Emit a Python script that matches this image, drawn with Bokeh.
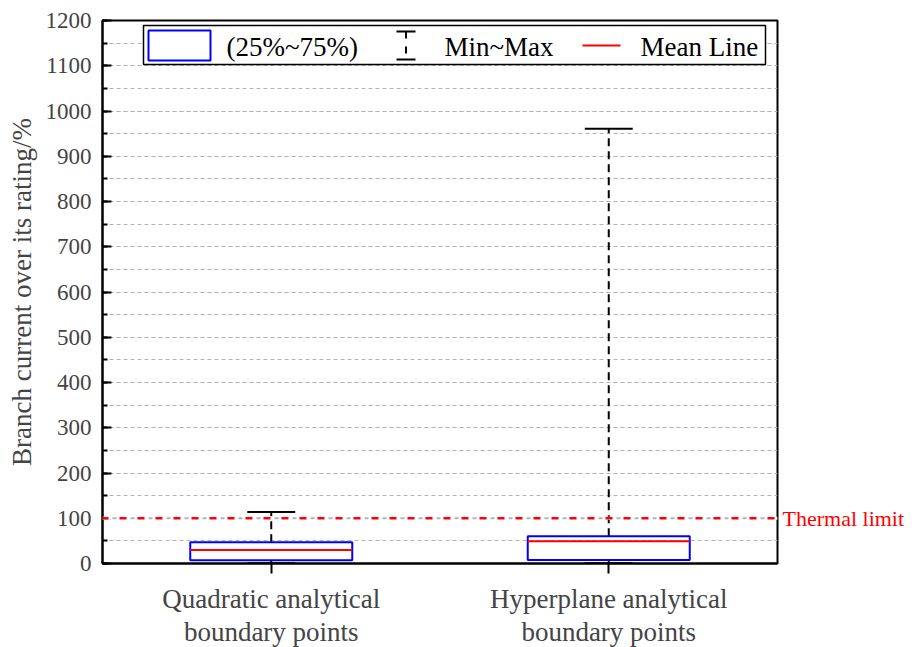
from bokeh.plotting import figure
from bokeh.models import (Range1d, SingleIntervalTicker, FixedTicker, Span, LinearAxis,
                          ColumnDataSource)
from bokeh.transform import dodge
from bokeh.embed import file_html
from bokeh.resources import INLINE
from bokeh.core.properties import value

# --- data ---------------------------------------------------------------
categories = ["Quadratic analytical\nboundary points",
              "Hyperplane analytical\nboundary points"]
q1 = [7, 8]            # 25th percentile
q3 = [47, 60]          # 75th percentile
means = [30, 49]       # mean line
mins = [0.5, 0.5]      # minimum
maxs = [114, 961]      # maximum
thermal_limit = 100

legend_labels = ["(25%~75%)", "Min~Max", "Mean Line"]

FONT = "'Liberation Serif', 'Times New Roman', serif"
FW, FH = 675, 543

# each category sits in the middle of a unit-wide slot
xpos = [i + 0.5 for i in range(len(categories))]

src = ColumnDataSource(dict(x=xpos, q1=q1, q3=q3, mean=means, lo=mins, hi=maxs))

p = figure(x_range=Range1d(0, len(categories)), y_range=Range1d(0, 1200),
           frame_width=FW, frame_height=FH,
           min_border_left=102, min_border_top=20,
           min_border_right=0, min_border_bottom=84,
           output_backend="svg", toolbar_location=None,
           background_fill_color="white", border_fill_color="white")

# pixel-space ranges for the in-plot legend
p.extra_x_ranges = {"px": Range1d(0, FW)}
p.extra_y_ranges = {"px": Range1d(FH, 0)}

p.outline_line_color = "black"
p.outline_line_width = 2

# y axis
yax = p.yaxis[0]
yax.ticker = SingleIntervalTicker(interval=100, num_minor_ticks=2)
yax.axis_label = "Branch current over its rating/%"
yax.axis_label_text_font = FONT
yax.axis_label_text_font_size = "27px"
yax.axis_label_text_font_style = "normal"
yax.axis_label_standoff = 6
yax.major_label_text_font = FONT
yax.major_label_text_font_size = "23px"
yax.major_label_standoff = 11
yax.major_tick_in = 9
yax.major_tick_out = 0
yax.minor_tick_in = 5
yax.minor_tick_out = 0
yax.major_tick_line_width = 2
yax.minor_tick_line_width = 2
yax.axis_line_width = 2

# right-hand axis carrying only the thermal limit caption
rax = LinearAxis(ticker=FixedTicker(ticks=[thermal_limit], minor_ticks=[]),
                 major_label_overrides={thermal_limit: "Thermal limit"},
                 major_label_text_color="red", major_label_text_font=FONT,
                 major_label_text_font_size="22px", major_label_standoff=5,
                 major_tick_in=0, major_tick_out=0, minor_tick_in=0, minor_tick_out=0,
                 axis_line_color=None, major_tick_line_color=None)
p.add_layout(rax, "right")

# x axis: one tick per category
xax = p.xaxis[0]
xax.ticker = FixedTicker(ticks=xpos, minor_ticks=[])
xax.major_label_overrides = {x: c for x, c in zip(xpos, categories)}
xax.major_label_text_font = FONT
xax.major_label_text_font_size = "27px"
xax.major_label_text_line_height = 1.1
xax.major_label_standoff = 10
xax.major_tick_in = 0
xax.major_tick_out = 10
xax.minor_tick_in = 0
xax.minor_tick_out = 0
xax.major_tick_line_width = 2
xax.axis_line_width = 2

# grid
p.xgrid.visible = False
p.ygrid.grid_line_color = "#b4b4b4"
p.ygrid.grid_line_dash = "4 3"
p.ygrid.grid_line_width = 1
p.ygrid.minor_grid_line_color = "#b4b4b4"
p.ygrid.minor_grid_line_dash = "4 3"
p.ygrid.minor_grid_line_width = 1

# thermal limit line: red dashes with a grey dot in each gap
p.add_layout(Span(location=thermal_limit, dimension="width", line_color="white",
                  line_width=3))
p.add_layout(Span(location=thermal_limit, dimension="width", line_color="#b4b4b4",
                  line_width=2, line_dash="4 14", line_dash_offset=8))
p.add_layout(Span(location=thermal_limit, dimension="width", line_color="red",
                  line_width=2.5, line_dash="7 11", line_dash_offset=1))

# whiskers (dashed stems)
p.segment(x0="x", x1="x", y0="q3", y1="hi", source=src,
          line_color="black", line_width=2, line_dash="8 5")
p.segment(x0="x", x1="x", y0="lo", y1="q1", source=src,
          line_color="black", line_width=2, line_dash="8 5")
# caps
cap = 0.071
p.segment(x0=dodge("x", -cap), x1=dodge("x", cap), y0="hi", y1="hi", source=src,
          line_color="black", line_width=2)
p.segment(x0=dodge("x", -cap), x1=dodge("x", cap), y0="lo", y1="lo", source=src,
          line_color="black", line_width=2)

# interquartile boxes
p.vbar(x="x", width=0.48, bottom="q1", top="q3", source=src,
       fill_color=None, line_color="blue", line_width=2)
# mean lines
half = 0.24
p.segment(x0=dodge("x", -half), x1=dodge("x", half), y0="mean", y1="mean", source=src,
          line_color="red", line_width=2)

# legend drawn in frame pixel space
kw = dict(x_range_name="px", y_range_name="px")
p.quad(left=[41], right=[663], top=[5], bottom=[44], fill_color="white",
       line_color="black", line_width=1.5, **kw)
p.quad(left=[46], right=[108], top=[10], bottom=[40], fill_color=None,
       line_color="blue", line_width=2, **kw)
p.segment(x0=[294, 294], x1=[313, 313], y0=[11, 39], y1=[11, 39],
          line_color="black", line_width=2, **kw)
p.segment(x0=[303.5], x1=[303.5], y0=[11], y1=[39], line_color="black",
          line_width=2, line_dash="7 8", **kw)
p.segment(x0=[480], x1=[518], y0=[25], y1=[25], line_color="red", line_width=2, **kw)
p.text(x=[124, 342, 538], y=[26, 26, 26], text=legend_labels,
       text_font=value(FONT), text_font_size="27px", text_baseline="middle",
       text_color="black", **kw)

open("out.html", "w").write(file_html(p, INLINE))
